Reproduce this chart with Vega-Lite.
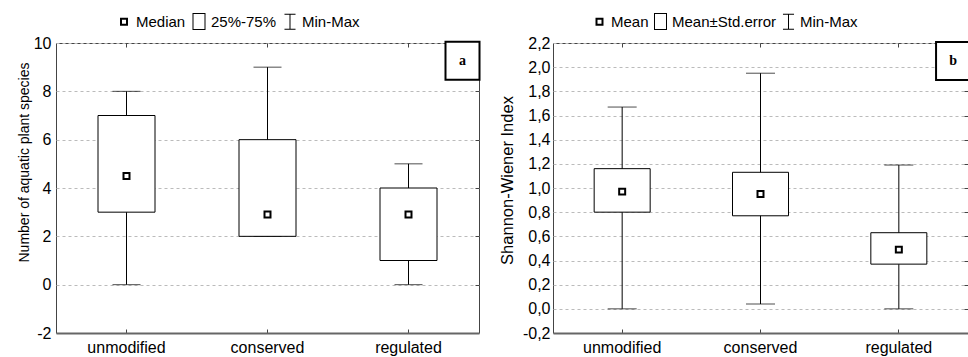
{
  "$schema": "https://vega.github.io/schema/vega-lite/v6.json",
  "padding": {"left": 16, "top": 12, "right": 0, "bottom": 4},
  "spacing": 74,
  "bounds": "flush",
  "datasets": {
    "A": [
      {"cat": "unmodified", "min": 0, "max": 8, "q1": 3, "q3": 7, "mid": 4.5, "series": "Median"},
      {"cat": "conserved", "min": 2, "max": 9, "q1": 2, "q3": 6, "mid": 2.9, "series": "Median"},
      {"cat": "regulated", "min": 0, "max": 5, "q1": 1, "q3": 4, "mid": 2.9, "series": "Median"}
    ],
    "B": [
      {"cat": "unmodified", "min": 0, "max": 1.67, "q1": 0.80, "q3": 1.16, "mid": 0.97, "series": "Mean"},
      {"cat": "conserved", "min": 0.04, "max": 1.95, "q1": 0.77, "q3": 1.13, "mid": 0.95, "series": "Mean"},
      {"cat": "regulated", "min": 0, "max": 1.19, "q1": 0.37, "q3": 0.63, "mid": 0.49, "series": "Mean"}
    ],
    "LA": [{"label": "a", "cat": "regulated", "y": 9.27}],
    "LB": [{"label": "b", "cat": "regulated", "y": 2.051}]
  },
  "hconcat": [
    {
      "width": 423,
      "height": 290,
      "data": {"name": "A"},
      "layer": [
        {
          "mark": {"type": "rule", "color": "black", "strokeWidth": 1},
          "encoding": {
            "x": {"field": "cat", "type": "nominal",
                  "scale": {"type": "band", "domain": ["unmodified", "conserved", "regulated"], "paddingInner": 0, "paddingOuter": 0},
                  "axis": {"orient": "bottom", "title": null, "labelAngle": 0, "labelFontSize": 16, "tickSize": -4, "tickColor": "#444", "labelPadding": 10, "domainColor": "#666", "domainWidth": 2, "grid": false}},
            "y": {"field": "min", "type": "quantitative", "scale": {"domain": [-2, 10], "nice": false, "zero": false},
                  "axis": {"orient": "left", "title": "Number of aquatic plant species", "titleFontSize": 14, "titlePadding": 2, "titleY": 119,
                           "values": [-2, 0, 2, 4, 6, 8, 10], "labelExpr": "(datum.value < 0 ? '-' : '') + format(abs(datum.value), 'd')",
                           "labelFontSize": 16, "ticks": false, "labelPadding": 5, "domain": false,
                           "grid": true, "gridDash": [3, 3], "gridColor": "#bbb"}},
            "y2": {"field": "max"}
          }
        },
        {
          "mark": {"type": "tick", "color": "black", "size": 28, "thickness": 1},
          "encoding": {
            "x": {"field": "cat", "type": "nominal",
                  "axis": {"orient": "top", "labels": false, "title": null, "tickSize": -4, "tickColor": "#444", "domain": false, "grid": false}},
            "y": {"field": "min", "type": "quantitative",
                  "axis": {"orient": "right", "labels": false, "title": null, "tickSize": -4, "tickColor": "#444", "values": [0, 2, 4, 6, 8], "domain": false, "grid": false}}
          }
        },
        {
          "mark": {"type": "tick", "color": "black", "size": 28, "thickness": 1},
          "encoding": {
            "x": {"field": "cat", "type": "nominal", "axis": null},
            "y": {"field": "max", "type": "quantitative", "axis": null}
          }
        },
        {
          "mark": {"type": "bar", "fill": "white", "stroke": "black", "strokeWidth": 1, "size": 57},
          "encoding": {
            "x": {"field": "cat", "type": "nominal", "axis": null},
            "y": {"field": "q1", "type": "quantitative", "axis": null},
            "y2": {"field": "q3"}
          }
        },
        {
          "mark": {"type": "point", "filled": true, "color": "black", "strokeWidth": 0, "size": 289, "opacity": 1},
          "encoding": {
            "x": {"field": "cat", "type": "nominal", "axis": null},
            "y": {"field": "mid", "type": "quantitative", "axis": null},
            "shape": {"field": "series", "type": "nominal",
                      "scale": {"domain": ["Median", "25%-75%", "Min-Max"],
                                "range": ["M-0.47,-0.47H0.47V0.47H-0.47Z M-0.235,-0.235V0.235H0.235V-0.235Z",
                                          "M-0.765,-1H0.765V1H-0.765Z M-0.647,-0.882V0.882H0.647V-0.882Z",
                                          "M-0.65,-0.95H0.65V-0.832H-0.65Z M-0.059,-0.95H0.059V0.95H-0.059Z M-0.65,0.832H0.65V0.95H-0.65Z"]},
                      "legend": {"orient": "none", "legendX": 59.5, "legendY": -30, "direction": "horizontal", "title": null,
                                 "symbolSize": 289, "labelFontSize": 15, "labelOffset": 3.5, "columnPadding": 5, "labelColor": "black",
                                 "symbolFillColor": "black", "symbolStrokeWidth": 0, "symbolOpacity": 1}}
          }
        },
        {
          "data": {"name": "LA"},
          "mark": {"type": "point", "shape": "M-0.895,-1H0.895V1H-0.895Z", "size": 1444, "filled": true, "fill": "white", "stroke": "black", "strokeWidth": 2, "opacity": 1},
          "encoding": {
            "x": {"field": "cat", "type": "nominal", "bandPosition": 0.883, "axis": null},
            "y": {"field": "y", "type": "quantitative", "axis": null}
          }
        },
        {
          "data": {"name": "LA"},
          "mark": {"type": "text", "font": "Liberation Serif", "fontWeight": "bold", "fontSize": 14, "color": "black", "baseline": "middle", "align": "center"},
          "encoding": {
            "x": {"field": "cat", "type": "nominal", "bandPosition": 0.883, "axis": null},
            "y": {"field": "y", "type": "quantitative", "axis": null},
            "text": {"field": "label"}
          }
        }
      ],
      "resolve": {"axis": {"x": "independent", "y": "independent"}}
    },
    {
      "width": 415,
      "height": 290,
      "data": {"name": "B"},
      "layer": [
        {
          "mark": {"type": "rule", "color": "black", "strokeWidth": 1},
          "encoding": {
            "x": {"field": "cat", "type": "nominal",
                  "scale": {"type": "band", "domain": ["unmodified", "conserved", "regulated"], "paddingInner": 0, "paddingOuter": 0},
                  "axis": {"orient": "bottom", "title": null, "labelAngle": 0, "labelFontSize": 16, "tickSize": -4, "tickColor": "#444", "labelPadding": 10, "domainColor": "#666", "domainWidth": 2, "grid": false}},
            "y": {"field": "min", "type": "quantitative", "scale": {"domain": [-0.2, 2.2], "nice": false, "zero": false},
                  "axis": {"orient": "left", "title": "Shannon-Wiener Index", "titleFontSize": 16.5, "titlePadding": 7, "titleY": 137,
                           "values": [-0.2, 0, 0.2, 0.4, 0.6, 0.8, 1.0, 1.2, 1.4, 1.6, 1.8, 2.0, 2.2],
                           "labelExpr": "(datum.value < -0.001 ? '-' : '') + replace(format(abs(datum.value), '.1f'), '.', ',')",
                           "labelFontSize": 16, "ticks": false, "labelPadding": 3, "domain": false,
                           "grid": true, "gridDash": [3, 3], "gridColor": "#bbb"}},
            "y2": {"field": "max"}
          }
        },
        {
          "mark": {"type": "tick", "color": "black", "size": 29, "thickness": 1},
          "encoding": {
            "x": {"field": "cat", "type": "nominal",
                  "axis": {"orient": "top", "labels": false, "title": null, "tickSize": -4, "tickColor": "#444", "domain": false, "grid": false}},
            "y": {"field": "min", "type": "quantitative",
                  "axis": {"orient": "right", "labels": false, "title": null, "tickSize": -4, "tickColor": "#444", "values": [0, 0.2, 0.4, 0.6, 0.8, 1.0, 1.2, 1.4, 1.6, 1.8, 2.0], "domain": false, "grid": false}}
          }
        },
        {
          "mark": {"type": "tick", "color": "black", "size": 29, "thickness": 1},
          "encoding": {
            "x": {"field": "cat", "type": "nominal", "axis": null},
            "y": {"field": "max", "type": "quantitative", "axis": null}
          }
        },
        {
          "mark": {"type": "bar", "fill": "white", "stroke": "black", "strokeWidth": 1, "size": 56},
          "encoding": {
            "x": {"field": "cat", "type": "nominal", "axis": null},
            "y": {"field": "q1", "type": "quantitative", "axis": null},
            "y2": {"field": "q3"}
          }
        },
        {
          "mark": {"type": "point", "filled": true, "color": "black", "strokeWidth": 0, "size": 289, "opacity": 1},
          "encoding": {
            "x": {"field": "cat", "type": "nominal", "axis": null},
            "y": {"field": "mid", "type": "quantitative", "axis": null},
            "shape": {"field": "series", "type": "nominal",
                      "scale": {"domain": ["Mean", "Mean±Std.error", "Min-Max"],
                                "range": ["M-0.47,-0.47H0.47V0.47H-0.47Z M-0.235,-0.235V0.235H0.235V-0.235Z",
                                          "M-0.765,-1H0.765V1H-0.765Z M-0.647,-0.882V0.882H0.647V-0.882Z",
                                          "M-0.65,-0.95H0.65V-0.832H-0.65Z M-0.059,-0.95H0.059V0.95H-0.059Z M-0.65,0.832H0.65V0.95H-0.65Z"]},
                      "legend": {"orient": "none", "legendX": 38, "legendY": -30, "direction": "horizontal", "title": null,
                                 "symbolSize": 289, "labelFontSize": 15, "labelOffset": 3, "columnPadding": 3, "labelColor": "black",
                                 "symbolFillColor": "black", "symbolStrokeWidth": 0, "symbolOpacity": 1}}
          }
        },
        {
          "data": {"name": "LB"},
          "mark": {"type": "point", "shape": "M-0.895,-1H0.895V1H-0.895Z", "size": 1444, "filled": true, "fill": "white", "stroke": "black", "strokeWidth": 2, "opacity": 1},
          "encoding": {
            "x": {"field": "cat", "type": "nominal", "bandPosition": 0.892, "axis": null},
            "y": {"field": "y", "type": "quantitative", "axis": null}
          }
        },
        {
          "data": {"name": "LB"},
          "mark": {"type": "text", "font": "Liberation Serif", "fontWeight": "bold", "fontSize": 14, "color": "black", "baseline": "middle", "align": "center"},
          "encoding": {
            "x": {"field": "cat", "type": "nominal", "bandPosition": 0.892, "axis": null},
            "y": {"field": "y", "type": "quantitative", "axis": null},
            "text": {"field": "label"}
          }
        }
      ],
      "resolve": {"axis": {"x": "independent", "y": "independent"}}
    }
  ],
  "resolve": {"scale": {"shape": "independent"}, "legend": {"shape": "independent"}},
  "config": {
    "font": "Liberation Sans",
    "view": {"stroke": "#444", "strokeWidth": 1},
    "axis": {"labelFont": "Liberation Sans", "titleFont": "Liberation Sans", "labelColor": "black", "titleColor": "black", "titleFontWeight": "normal"},
    "legend": {"labelFont": "Liberation Sans"}
  }
}
